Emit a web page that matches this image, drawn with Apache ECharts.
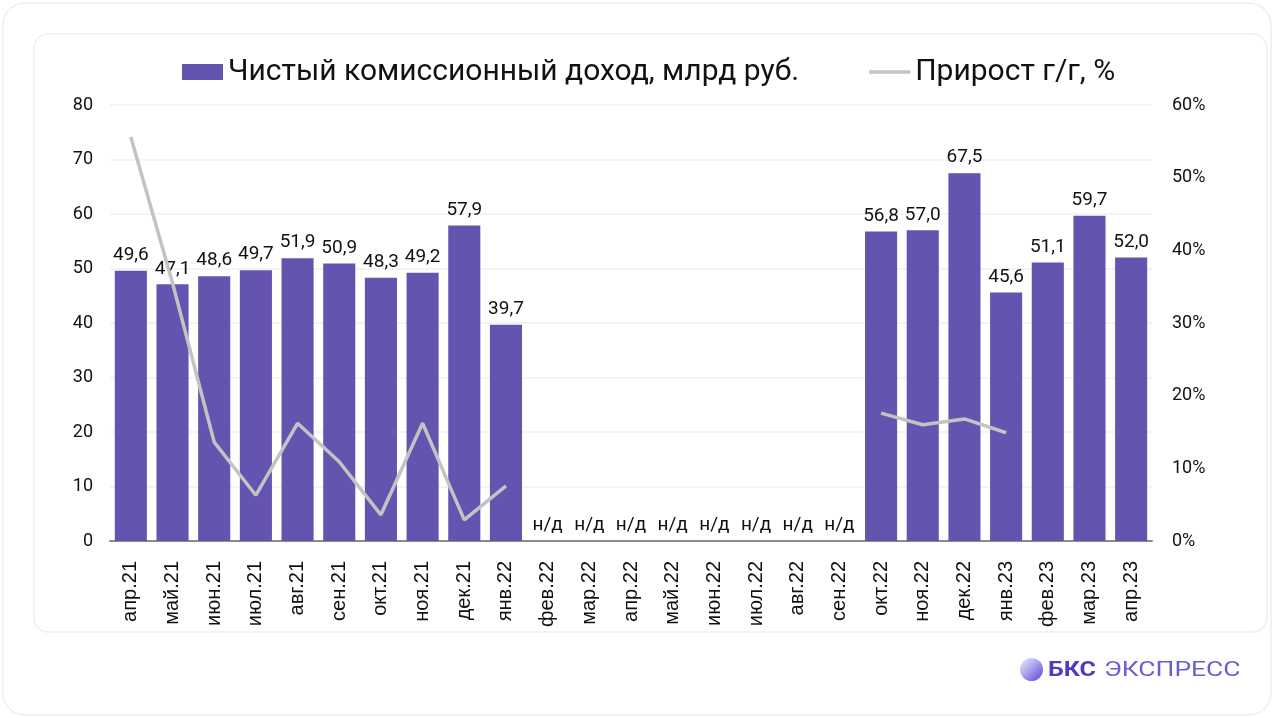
<!DOCTYPE html>
<html><head><meta charset="utf-8">
<script src="https://cdn.jsdelivr.net/npm/echarts@6/dist/echarts.min.js"></script>
<style>html,body{margin:0;padding:0;background:#fff;}#c{width:1274px;height:718px;}</style>
</head><body><div id="c"></div>
<script>
const categories = ['апр.21','май.21','июн.21','июл.21','авг.21','сен.21','окт.21','ноя.21','дек.21','янв.22','фев.22','мар.22','апр.22','май.22','июн.22','июл.22','авг.22','сен.22','окт.22','ноя.22','дек.22','янв.23','фев.23','мар.23','апр.23'];
const commissionIncome = [49.6,47.1,48.6,49.7,51.9,50.9,48.3,49.2,57.9,39.7,null,null,null,null,null,null,null,null,56.8,57.0,67.5,45.6,51.1,59.7,52.0];
const growthYoY = [55.6,35.5,13.6,6.3,16.2,10.9,3.6,16.2,2.9,7.6,null,null,null,null,null,null,null,null,17.6,16.0,16.8,14.9,null,null,null];
const leftTicks = [0,10,20,30,40,50,60,70,80];
const rightTicks = ['0%','10%','20%','30%','40%','50%','60%'];
const naLabel = 'н/д';
const seriesNames = ['Чистый комиссионный доход, млрд руб.','Прирост г/г, %'];

const chart = echarts.init(document.getElementById('c'), null, {renderer:'canvas'});
const fmt = v => v.toFixed(1).replace('.', ',');
const barData = commissionIncome.map(v => v == null ? {value:0, label:{formatter:naLabel}} : v);

chart.setOption({
  animation:false,
  backgroundColor:'#ffffff',
  graphic:[
    {type:'rect', shape:{x:3,y:3,width:1268,height:712,r:22}, style:{fill:'#fff',stroke:'#eeeeee',lineWidth:1.5}, z:-10},
    {type:'rect', shape:{x:34,y:34,width:1233,height:598,r:14}, style:{fill:'#fff',stroke:'#efefef',lineWidth:1.5}, z:-9},
    {type:'circle', shape:{cx:1031.5,cy:669.5,r:11.5}, style:{fill:new echarts.graphic.LinearGradient(0,0,1,1,[{offset:0,color:'#f1effd'},{offset:0.45,color:'#aea5f0'},{offset:1,color:'#5545cc'}])}},
    {type:'text', x:1048, y:671, scaleX:1.25, style:{text:'БКС', font:'bold 20px Roboto', fill:'#4b3cc0', verticalAlign:'middle'}},
    {type:'text', x:1104, y:671, scaleX:1.32, style:{text:'ЭКСПРЕСС', font:'20px Roboto', fill:'#6a5ed4', verticalAlign:'middle'}}
  ],
  legend:{
    top:52, left:177, itemWidth:41, itemHeight:16, itemGap:70,
    textStyle:{fontFamily:'Roboto', fontSize:30, color:'#111'},
    data:[
      {name:seriesNames[0], icon:'rect'},
      {name:seriesNames[1], icon:'path://M0,0 H41 V3.5 H0 Z', itemStyle:{color:'#c3c3c3'}}
    ]
  },
  grid:{left:110, right:122, top:105, bottom:177, containLabel:false},
  xAxis:{
    type:'category', data:categories,
    axisLine:{lineStyle:{color:'#8a8a8a', width:2}},
    axisTick:{show:false},
    axisLabel:{rotate:90, interval:0, fontFamily:'Liberation Sans, Arial', fontSize:20, color:'#111', margin:20}
  },
  yAxis:[
    {type:'value', min:0, max:80, interval:10, position:'left',
     axisLabel:{fontFamily:'Roboto', fontSize:18, color:'#111', margin:17, formatter:v=>leftTicks.includes(v)?String(v):''},
     splitLine:{lineStyle:{color:'#f0f0f0', width:1.5}}, axisLine:{show:false}, axisTick:{show:false}},
    {type:'value', min:0, max:60, interval:10, position:'right',
     axisLabel:{fontFamily:'Roboto', fontSize:18, color:'#111', margin:20, formatter:v=>rightTicks[v/10]},
     splitLine:{show:false}, axisLine:{show:false}, axisTick:{show:false}}
  ],
  series:[
    {name:seriesNames[0], type:'bar', yAxisIndex:0, data:barData, barWidth:'77%',
     itemStyle:{color:'#6553b0'},
     label:{show:true, position:'top', distance:6, fontFamily:'Roboto', fontSize:19, color:'#111',
       formatter:p=>fmt(p.value)}},
    {name:seriesNames[1], type:'line', yAxisIndex:1, data:growthYoY, symbol:'none', connectNulls:false,
     lineStyle:{color:'#c3c3c3', width:3.5}, itemStyle:{color:'#c3c3c3'}, z:5}
  ]
});
</script></body></html>
